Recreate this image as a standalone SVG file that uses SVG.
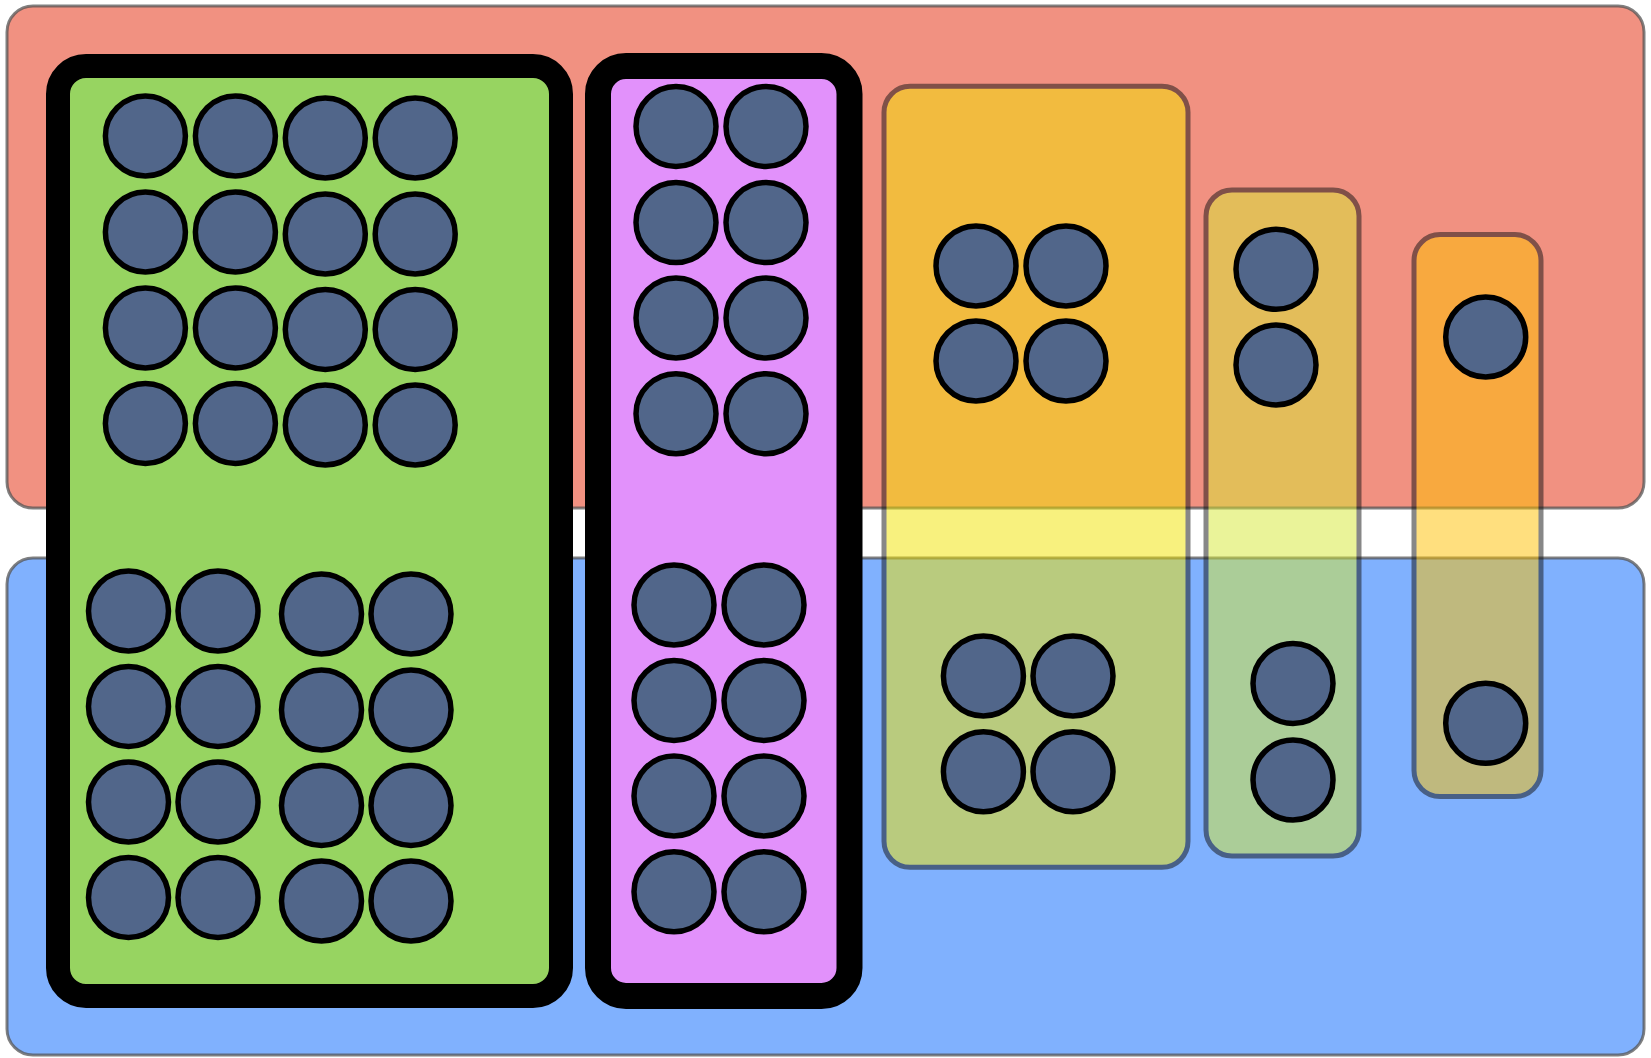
<svg xmlns="http://www.w3.org/2000/svg" width="1651" height="1058" viewBox="0 0 1651 1058">
<style>
.bg{stroke:#555;stroke-opacity:0.75;stroke-width:3}
.heavy{stroke:#000}
.tr{opacity:0.5;stroke:#111;stroke-width:5}
.n{fill:#51668A;stroke:#000;stroke-width:5.5}
</style>
<rect width="1651" height="1058" fill="#fff"/>
<g id="red-region"><rect class="bg" x="7" y="6" width="1637" height="502" rx="26" fill="#F19181"/></g>
<g id="blue-region"><rect class="bg" x="7" y="558" width="1637" height="497" rx="26" fill="#80B1FE"/></g>
<g id="green-box"><rect class="heavy" x="58" y="66" width="503" height="930" rx="28" fill="#97D461" stroke-width="24"/></g>
<g id="purple-box"><rect class="heavy" x="598" y="66" width="251.5" height="930" rx="28" fill="#E291FB" stroke-width="26"/></g>
<g id="yellow-box"><rect class="tr" x="884" y="86.3" width="304" height="781" rx="26" fill="#F3E500"/></g>
<g id="lime-box"><rect class="tr" x="1206" y="190" width="153" height="666" rx="26" fill="#D7E935"/></g>
<g id="orange-box"><rect class="tr" x="1414" y="234.6" width="127" height="562" rx="26" fill="#FFC100"/></g>
<g id="green-top-nodes">
<circle class="n" cx="145.4" cy="136" r="40"/><circle class="n" cx="235.4" cy="136" r="40"/>
<circle class="n" cx="325.3" cy="138" r="40"/><circle class="n" cx="415.2" cy="138" r="40"/>
<circle class="n" cx="145.4" cy="232" r="40"/><circle class="n" cx="235.4" cy="232" r="40"/>
<circle class="n" cx="325.3" cy="234" r="40"/><circle class="n" cx="415.2" cy="234" r="40"/>
<circle class="n" cx="145.4" cy="328" r="40"/><circle class="n" cx="235.4" cy="328" r="40"/>
<circle class="n" cx="325.3" cy="329.5" r="40"/><circle class="n" cx="415.2" cy="329.5" r="40"/>
<circle class="n" cx="145.4" cy="423.5" r="40"/><circle class="n" cx="235.4" cy="423.5" r="40"/>
<circle class="n" cx="325.3" cy="425" r="40"/><circle class="n" cx="415.2" cy="425" r="40"/>
</g>
<g id="green-bottom-nodes">
<circle class="n" cx="128.5" cy="611" r="40"/><circle class="n" cx="218" cy="611" r="40"/>
<circle class="n" cx="321.5" cy="614" r="40"/><circle class="n" cx="411" cy="614" r="40"/>
<circle class="n" cx="128.5" cy="706.5" r="40"/><circle class="n" cx="218" cy="706.5" r="40"/>
<circle class="n" cx="321.5" cy="710" r="40"/><circle class="n" cx="411" cy="710" r="40"/>
<circle class="n" cx="128.5" cy="802" r="40"/><circle class="n" cx="218" cy="802" r="40"/>
<circle class="n" cx="321.5" cy="805.5" r="40"/><circle class="n" cx="411" cy="805.5" r="40"/>
<circle class="n" cx="128.5" cy="897.5" r="40"/><circle class="n" cx="218" cy="897.5" r="40"/>
<circle class="n" cx="321.5" cy="901" r="40"/><circle class="n" cx="411" cy="901" r="40"/>
</g>
<g id="purple-top-nodes">
<circle class="n" cx="676" cy="126.5" r="40"/><circle class="n" cx="766" cy="126.5" r="40"/>
<circle class="n" cx="676" cy="222.5" r="40"/><circle class="n" cx="766" cy="222.5" r="40"/>
<circle class="n" cx="676" cy="318" r="40"/><circle class="n" cx="766" cy="318" r="40"/>
<circle class="n" cx="676" cy="413.7" r="40"/><circle class="n" cx="766" cy="413.7" r="40"/>
</g>
<g id="purple-bottom-nodes">
<circle class="n" cx="674" cy="605" r="40"/><circle class="n" cx="764" cy="605" r="40"/>
<circle class="n" cx="674" cy="700.5" r="40"/><circle class="n" cx="764" cy="700.5" r="40"/>
<circle class="n" cx="674" cy="796" r="40"/><circle class="n" cx="764" cy="796" r="40"/>
<circle class="n" cx="674" cy="891.8" r="40"/><circle class="n" cx="764" cy="891.8" r="40"/>
</g>
<g id="yellow-nodes">
<circle class="n" cx="976" cy="266" r="40"/><circle class="n" cx="1066" cy="266" r="40"/>
<circle class="n" cx="976" cy="361" r="40"/><circle class="n" cx="1066" cy="361" r="40"/>
<circle class="n" cx="983.4" cy="676" r="40"/><circle class="n" cx="1073" cy="676" r="40"/>
<circle class="n" cx="983.4" cy="771.8" r="40"/><circle class="n" cx="1073" cy="771.8" r="40"/>
</g>
<g id="lime-nodes">
<circle class="n" cx="1276" cy="269.3" r="40"/><circle class="n" cx="1276" cy="365" r="40"/>
<circle class="n" cx="1293" cy="683.4" r="40"/><circle class="n" cx="1293" cy="780" r="40"/>
</g>
<g id="orange-nodes">
<circle class="n" cx="1485.7" cy="337" r="40"/><circle class="n" cx="1485.7" cy="723.3" r="40"/>
</g>
<g id="connectors"/>
</svg>
